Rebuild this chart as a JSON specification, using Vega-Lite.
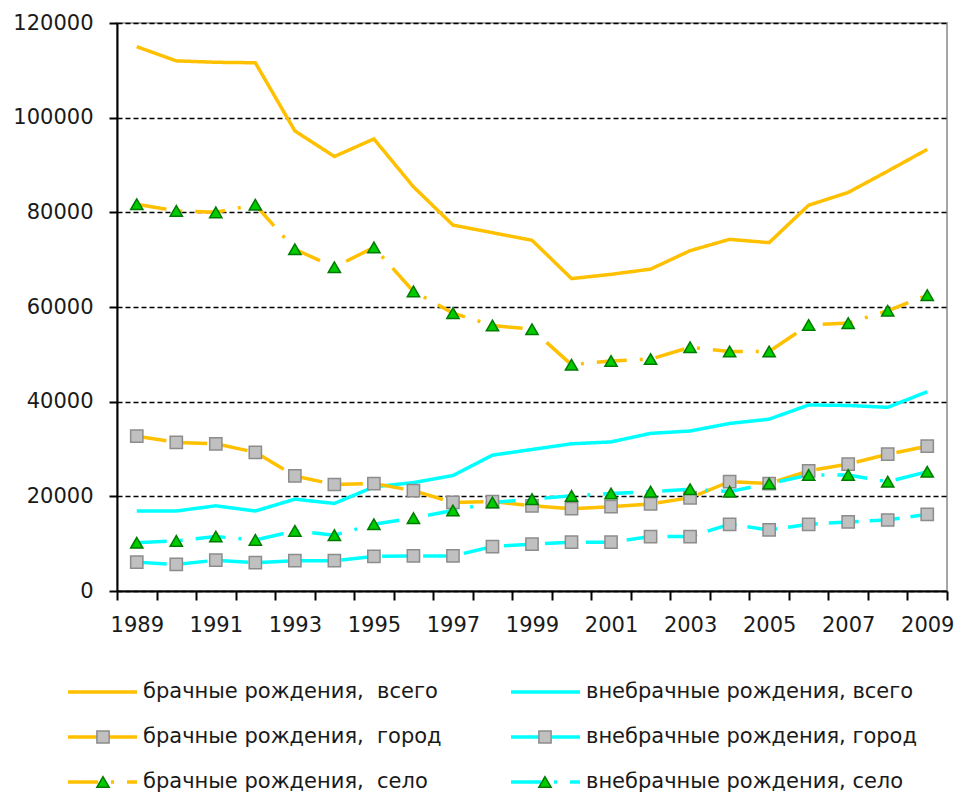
{
  "$schema": "https://vega.github.io/schema/vega-lite/v6.json",
  "width": 830,
  "height": 568,
  "autosize": {"type": "none"},
  "padding": {"left": 117, "top": 23, "right": 13, "bottom": 203},
  "background": "white",
  "config": {"view": {"stroke": "#A6A6A6", "strokeWidth": 2}},
  "datasets": {
    "births": [
      {"year": 1989, "series": "брачные рождения,\u00a0 всего", "value": 115000},
      {"year": 1990, "series": "брачные рождения,\u00a0 всего", "value": 112000},
      {"year": 1991, "series": "брачные рождения,\u00a0 всего", "value": 111700},
      {"year": 1992, "series": "брачные рождения,\u00a0 всего", "value": 111600},
      {"year": 1993, "series": "брачные рождения,\u00a0 всего", "value": 97200},
      {"year": 1994, "series": "брачные рождения,\u00a0 всего", "value": 91800},
      {"year": 1995, "series": "брачные рождения,\u00a0 всего", "value": 95500},
      {"year": 1996, "series": "брачные рождения,\u00a0 всего", "value": 85400},
      {"year": 1997, "series": "брачные рождения,\u00a0 всего", "value": 77300},
      {"year": 1998, "series": "брачные рождения,\u00a0 всего", "value": 75700},
      {"year": 1999, "series": "брачные рождения,\u00a0 всего", "value": 74100},
      {"year": 2000, "series": "брачные рождения,\u00a0 всего", "value": 66000},
      {"year": 2001, "series": "брачные рождения,\u00a0 всего", "value": 66900},
      {"year": 2002, "series": "брачные рождения,\u00a0 всего", "value": 68000},
      {"year": 2003, "series": "брачные рождения,\u00a0 всего", "value": 71900},
      {"year": 2004, "series": "брачные рождения,\u00a0 всего", "value": 74300},
      {"year": 2005, "series": "брачные рождения,\u00a0 всего", "value": 73600},
      {"year": 2006, "series": "брачные рождения,\u00a0 всего", "value": 81500},
      {"year": 2007, "series": "брачные рождения,\u00a0 всего", "value": 84200},
      {"year": 2008, "series": "брачные рождения,\u00a0 всего", "value": 88700},
      {"year": 2009, "series": "брачные рождения,\u00a0 всего", "value": 93300},
      {"year": 1989, "series": "внебрачные рождения, всего", "value": 16900},
      {"year": 1990, "series": "внебрачные рождения, всего", "value": 16900},
      {"year": 1991, "series": "внебрачные рождения, всего", "value": 18000},
      {"year": 1992, "series": "внебрачные рождения, всего", "value": 16900},
      {"year": 1993, "series": "внебрачные рождения, всего", "value": 19400},
      {"year": 1994, "series": "внебрачные рождения, всего", "value": 18500},
      {"year": 1995, "series": "внебрачные рождения, всего", "value": 22000},
      {"year": 1996, "series": "внебрачные рождения, всего", "value": 22900},
      {"year": 1997, "series": "внебрачные рождения, всего", "value": 24400},
      {"year": 1998, "series": "внебрачные рождения, всего", "value": 28700},
      {"year": 1999, "series": "внебрачные рождения, всего", "value": 29900},
      {"year": 2000, "series": "внебрачные рождения, всего", "value": 31100},
      {"year": 2001, "series": "внебрачные рождения, всего", "value": 31500},
      {"year": 2002, "series": "внебрачные рождения, всего", "value": 33300},
      {"year": 2003, "series": "внебрачные рождения, всего", "value": 33800},
      {"year": 2004, "series": "внебрачные рождения, всего", "value": 35400},
      {"year": 2005, "series": "внебрачные рождения, всего", "value": 36300},
      {"year": 2006, "series": "внебрачные рождения, всего", "value": 39300},
      {"year": 2007, "series": "внебрачные рождения, всего", "value": 39200},
      {"year": 2008, "series": "внебрачные рождения, всего", "value": 38800},
      {"year": 2009, "series": "внебрачные рождения, всего", "value": 42100},
      {"year": 1989, "series": "брачные рождения,\u00a0 город", "value": 32700},
      {"year": 1990, "series": "брачные рождения,\u00a0 город", "value": 31400},
      {"year": 1991, "series": "брачные рождения,\u00a0 город", "value": 31100},
      {"year": 1992, "series": "брачные рождения,\u00a0 город", "value": 29300},
      {"year": 1993, "series": "брачные рождения,\u00a0 город", "value": 24300},
      {"year": 1994, "series": "брачные рождения,\u00a0 город", "value": 22500},
      {"year": 1995, "series": "брачные рождения,\u00a0 город", "value": 22700},
      {"year": 1996, "series": "брачные рождения,\u00a0 город", "value": 21200},
      {"year": 1997, "series": "брачные рождения,\u00a0 город", "value": 18700},
      {"year": 1998, "series": "брачные рождения,\u00a0 город", "value": 18900},
      {"year": 1999, "series": "брачные рождения,\u00a0 город", "value": 18000},
      {"year": 2000, "series": "брачные рождения,\u00a0 город", "value": 17400},
      {"year": 2001, "series": "брачные рождения,\u00a0 город", "value": 17800},
      {"year": 2002, "series": "брачные рождения,\u00a0 город", "value": 18400},
      {"year": 2003, "series": "брачные рождения,\u00a0 город", "value": 19700},
      {"year": 2004, "series": "брачные рождения,\u00a0 город", "value": 23100},
      {"year": 2005, "series": "брачные рождения,\u00a0 город", "value": 22700},
      {"year": 2006, "series": "брачные рождения,\u00a0 город", "value": 25400},
      {"year": 2007, "series": "брачные рождения,\u00a0 город", "value": 26800},
      {"year": 2008, "series": "брачные рождения,\u00a0 город", "value": 28900},
      {"year": 2009, "series": "брачные рождения,\u00a0 город", "value": 30600},
      {"year": 1989, "series": "внебрачные рождения, город", "value": 6100},
      {"year": 1990, "series": "внебрачные рождения, город", "value": 5600},
      {"year": 1991, "series": "внебрачные рождения, город", "value": 6500},
      {"year": 1992, "series": "внебрачные рождения, город", "value": 6000},
      {"year": 1993, "series": "внебрачные рождения, город", "value": 6400},
      {"year": 1994, "series": "внебрачные рождения, город", "value": 6400},
      {"year": 1995, "series": "внебрачные рождения, город", "value": 7300},
      {"year": 1996, "series": "внебрачные рождения, город", "value": 7400},
      {"year": 1997, "series": "внебрачные рождения, город", "value": 7400},
      {"year": 1998, "series": "внебрачные рождения, город", "value": 9400},
      {"year": 1999, "series": "внебрачные рождения, город", "value": 9900},
      {"year": 2000, "series": "внебрачные рождения, город", "value": 10300},
      {"year": 2001, "series": "внебрачные рождения, город", "value": 10300},
      {"year": 2002, "series": "внебрачные рождения, город", "value": 11500},
      {"year": 2003, "series": "внебрачные рождения, город", "value": 11500},
      {"year": 2004, "series": "внебрачные рождения, город", "value": 14100},
      {"year": 2005, "series": "внебрачные рождения, город", "value": 12900},
      {"year": 2006, "series": "внебрачные рождения, город", "value": 14100},
      {"year": 2007, "series": "внебрачные рождения, город", "value": 14600},
      {"year": 2008, "series": "внебрачные рождения, город", "value": 15000},
      {"year": 2009, "series": "внебрачные рождения, город", "value": 16200},
      {"year": 1989, "series": "брачные рождения,\u00a0 село", "value": 81700},
      {"year": 1990, "series": "брачные рождения,\u00a0 село", "value": 80300},
      {"year": 1991, "series": "брачные рождения,\u00a0 село", "value": 80000},
      {"year": 1992, "series": "брачные рождения,\u00a0 село", "value": 81600},
      {"year": 1993, "series": "брачные рождения,\u00a0 село", "value": 72200},
      {"year": 1994, "series": "брачные рождения,\u00a0 село", "value": 68400},
      {"year": 1995, "series": "брачные рождения,\u00a0 село", "value": 72600},
      {"year": 1996, "series": "брачные рождения,\u00a0 село", "value": 63300},
      {"year": 1997, "series": "брачные рождения,\u00a0 село", "value": 58700},
      {"year": 1998, "series": "брачные рождения,\u00a0 село", "value": 56100},
      {"year": 1999, "series": "брачные рождения,\u00a0 село", "value": 55300},
      {"year": 2000, "series": "брачные рождения,\u00a0 село", "value": 47800},
      {"year": 2001, "series": "брачные рождения,\u00a0 село", "value": 48600},
      {"year": 2002, "series": "брачные рождения,\u00a0 село", "value": 49000},
      {"year": 2003, "series": "брачные рождения,\u00a0 село", "value": 51500},
      {"year": 2004, "series": "брачные рождения,\u00a0 село", "value": 50600},
      {"year": 2005, "series": "брачные рождения,\u00a0 село", "value": 50600},
      {"year": 2006, "series": "брачные рождения,\u00a0 село", "value": 56200},
      {"year": 2007, "series": "брачные рождения,\u00a0 село", "value": 56600},
      {"year": 2008, "series": "брачные рождения,\u00a0 село", "value": 59200},
      {"year": 2009, "series": "брачные рождения,\u00a0 село", "value": 62500},
      {"year": 1989, "series": "внебрачные рождения, село", "value": 10200},
      {"year": 1990, "series": "внебрачные рождения, село", "value": 10600},
      {"year": 1991, "series": "внебрачные рождения, село", "value": 11500},
      {"year": 1992, "series": "внебрачные рождения, село", "value": 10800},
      {"year": 1993, "series": "внебрачные рождения, село", "value": 12700},
      {"year": 1994, "series": "внебрачные рождения, село", "value": 11800},
      {"year": 1995, "series": "внебрачные рождения, село", "value": 14100},
      {"year": 1996, "series": "внебрачные рождения, село", "value": 15400},
      {"year": 1997, "series": "внебрачные рождения, село", "value": 17000},
      {"year": 1998, "series": "внебрачные рождения, село", "value": 18700},
      {"year": 1999, "series": "внебрачные рождения, село", "value": 19400},
      {"year": 2000, "series": "внебрачные рождения, село", "value": 20100},
      {"year": 2001, "series": "внебрачные рождения, село", "value": 20600},
      {"year": 2002, "series": "внебрачные рождения, село", "value": 21000},
      {"year": 2003, "series": "внебрачные рождения, село", "value": 21500},
      {"year": 2004, "series": "внебрачные рождения, село", "value": 21000},
      {"year": 2005, "series": "внебрачные рождения, село", "value": 22700},
      {"year": 2006, "series": "внебрачные рождения, село", "value": 24500},
      {"year": 2007, "series": "внебрачные рождения, село", "value": 24500},
      {"year": 2008, "series": "внебрачные рождения, село", "value": 23100},
      {"year": 2009, "series": "внебрачные рождения, село", "value": 25200}
    ]
  },
  "data": {"name": "births"},
  "encoding": {
    "x": {
      "field": "year",
      "type": "ordinal",
      "scale": {"type": "band", "paddingInner": 0, "paddingOuter": 0},
      "axis": {
        "title": null,
        "tickBand": "extent",
        "labelExpr": "datum.value % 2 == 1 ? datum.label : ''",
        "labelOverlap": false,
        "labelAngle": 0,
        "labelFont": "DejaVu Sans",
        "labelFontSize": 21,
        "labelColor": "#1a1a1a",
        "labelPadding": 14,
        "tickSize": 9,
        "tickWidth": 2,
        "tickColor": "black",
        "domainColor": "black",
        "domainWidth": 2,
        "grid": false
      }
    },
    "y": {
      "field": "value",
      "type": "quantitative",
      "scale": {"domain": [0, 120000], "nice": false},
      "axis": {
        "title": null,
        "values": [0, 20000, 40000, 60000, 80000, 100000, 120000],
        "format": "d",
        "grid": true,
        "gridColor": "black",
        "gridDash": [5, 3],
        "gridWidth": 1.3,
        "tickSize": 8,
        "tickWidth": 2,
        "tickColor": "black",
        "domainColor": "black",
        "domainWidth": 2,
        "labelFont": "DejaVu Sans",
        "labelFontSize": 21,
        "labelColor": "#1a1a1a",
        "labelPadding": 16
      }
    }
  },
  "layer": [
    {
      "mark": {"type": "line", "strokeWidth": 3.5},
      "encoding": {
        "color": {
          "field": "series",
          "type": "nominal",
          "scale": {
            "domain": ["брачные рождения,\u00a0 всего", "брачные рождения,\u00a0 город", "брачные рождения,\u00a0 село", "внебрачные рождения, всего", "внебрачные рождения, город", "внебрачные рождения, село"],
            "range": ["#FFC000", "#FFC000", "#FFC000", "#00FFFF", "#00FFFF", "#00FFFF"]
          },
          "legend": {
            "orient": "none", "legendX": -51, "legendY": 656, "columns": 2, "title": null, "padding": 0,
            "symbolType": "stroke", "symbolSize": 4761, "symbolStrokeWidth": 3.5,
            "clipHeight": 26, "rowPadding": 19, "columnPadding": 67,
            "labelFont": "DejaVu Sans", "labelFontSize": 21, "labelColor": "#1a1a1a", "labelOffset": 4, "labelLimit": 0
          }
        },
        "strokeDash": {
          "field": "series",
          "type": "nominal",
          "scale": {
            "domain": ["брачные рождения,\u00a0 всего", "брачные рождения,\u00a0 город", "брачные рождения,\u00a0 село", "внебрачные рождения, всего", "внебрачные рождения, город", "внебрачные рождения, село"],
            "range": [[1, 0], [30, 11], [30, 13, 3, 13], [1, 0], [30, 11], [30, 13, 3, 13]]
          },
          "legend": {
            "orient": "none", "legendX": -51, "legendY": 656, "columns": 2, "title": null, "padding": 0,
            "symbolType": "stroke", "symbolSize": 4761, "symbolStrokeWidth": 3.5,
            "clipHeight": 26, "rowPadding": 19, "columnPadding": 67,
            "labelFont": "DejaVu Sans", "labelFontSize": 21, "labelColor": "#1a1a1a", "labelOffset": 4, "labelLimit": 0
          }
        }
      }
    },
    {
      "transform": [{"filter": {"field": "series", "oneOf": ["брачные рождения,\u00a0 город", "внебрачные рождения, город", "брачные рождения,\u00a0 село", "внебрачные рождения, село"]}}],
      "mark": {"type": "point", "filled": true, "size": 150, "strokeWidth": 1.5, "opacity": 1},
      "encoding": {
        "shape": {
          "field": "series",
          "type": "nominal",
          "scale": {
            "domain": ["брачные рождения,\u00a0 всего", "брачные рождения,\u00a0 город", "брачные рождения,\u00a0 село", "внебрачные рождения, всего", "внебрачные рождения, город", "внебрачные рождения, село"],
            "range": ["square", "square", "triangle-up", "square", "square", "triangle-up"]
          },
          "legend": {
            "orient": "none", "legendX": -51, "legendY": 656, "columns": 2, "title": null, "padding": 0,
            "symbolSize": 150, "symbolStrokeWidth": 1.5, "symbolOffset": 26.5, "symbolOpacity": 1,
            "clipHeight": 26, "rowPadding": 19, "columnPadding": 338,
            "labelExpr": "''", "labelFont": "DejaVu Sans", "labelFontSize": 21, "labelOffset": 56, "labelLimit": 0
          }
        },
        "fill": {
          "field": "series",
          "type": "nominal",
          "scale": {
            "domain": ["брачные рождения,\u00a0 всего", "брачные рождения,\u00a0 город", "брачные рождения,\u00a0 село", "внебрачные рождения, всего", "внебрачные рождения, город", "внебрачные рождения, село"],
            "range": ["transparent", "#C0C0C0", "#00CC00", "transparent", "#C0C0C0", "#00CC00"]
          },
          "legend": {
            "orient": "none", "legendX": -51, "legendY": 656, "columns": 2, "title": null, "padding": 0,
            "symbolSize": 150, "symbolStrokeWidth": 1.5, "symbolOffset": 26.5, "symbolOpacity": 1,
            "clipHeight": 26, "rowPadding": 19, "columnPadding": 338,
            "labelExpr": "''", "labelFont": "DejaVu Sans", "labelFontSize": 21, "labelOffset": 56, "labelLimit": 0
          }
        },
        "stroke": {
          "field": "series",
          "type": "nominal",
          "scale": {
            "domain": ["брачные рождения,\u00a0 всего", "брачные рождения,\u00a0 город", "брачные рождения,\u00a0 село", "внебрачные рождения, всего", "внебрачные рождения, город", "внебрачные рождения, село"],
            "range": ["transparent", "#8C8C8C", "#007A00", "transparent", "#8C8C8C", "#007A00"]
          },
          "legend": {
            "orient": "none", "legendX": -51, "legendY": 656, "columns": 2, "title": null, "padding": 0,
            "symbolSize": 150, "symbolStrokeWidth": 1.5, "symbolOffset": 26.5, "symbolOpacity": 1,
            "clipHeight": 26, "rowPadding": 19, "columnPadding": 338,
            "labelExpr": "''", "labelFont": "DejaVu Sans", "labelFontSize": 21, "labelOffset": 56, "labelLimit": 0
          }
        }
      }
    }
  ],
  "resolve": {
    "legend": {"color": "independent", "strokeDash": "independent", "shape": "independent", "fill": "independent", "stroke": "independent"}
  }
}
